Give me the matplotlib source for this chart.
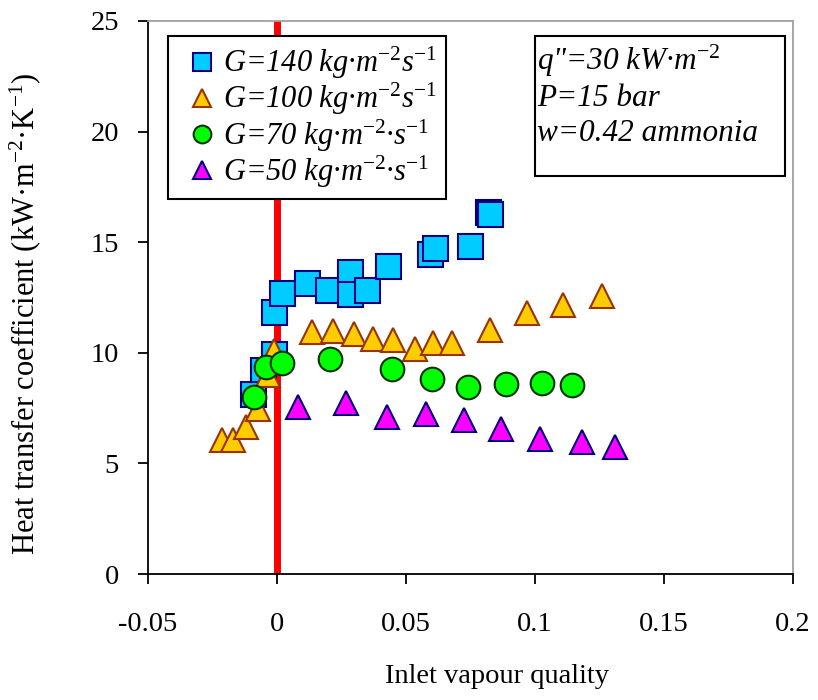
import matplotlib
matplotlib.use("Agg")
import matplotlib.pyplot as plt
from matplotlib.patches import Rectangle

plt.rcParams['font.family'] = ['Liberation Serif', 'DejaVu Serif']
plt.rcParams['mathtext.fontset'] = 'custom'
plt.rcParams['mathtext.rm'] = 'Liberation Serif'
plt.rcParams['mathtext.it'] = 'Liberation Serif:italic'

# ---- data ----
x_g140 = [-0.0012, 0.0021, 0.0115, 0.0199, 0.0283, 0.0283, 0.0348, 0.0429,
          0.0593, 0.0612, 0.0748, 0.0819, 0.0826, -0.0012, -0.0053, -0.0092]
y_g140 = [11.84, 12.69, 13.15, 12.86, 13.67, 12.67, 12.86, 13.94,
          14.47, 14.74, 14.85, 16.35, 16.28, 9.96, 9.20, 8.15]

x_g100 = [-0.0214, -0.0169, -0.0120, -0.0072, -0.0034, -0.0012, 0.0137, 0.0218,
          0.0298, 0.0373, 0.0451, 0.0535, 0.0603, 0.0680, 0.0826, 0.0970,
          0.1110, 0.1258]
y_g100 = [6.05, 6.05, 6.65, 7.48, 8.98, 10.10, 10.93, 10.97,
          10.83, 10.64, 10.56, 10.18, 10.44, 10.44, 11.01, 11.81,
          12.18, 12.56]

x_g70 = [-0.0089, -0.0044, 0.0018, 0.0205, 0.0445, 0.0600, 0.0740, 0.0887,
         0.1026, 0.1142]
y_g70 = [8.00, 9.36, 9.54, 9.70, 9.28, 8.80, 8.45, 8.60, 8.65, 8.53]

x_g50 = [0.0083, 0.0267, 0.0425, 0.0578, 0.0726, 0.0868, 0.1021, 0.1184, 0.1311]
y_g50 = [7.55, 7.73, 7.10, 7.25, 6.95, 6.57, 6.12, 5.97, 5.74]

labels = ['G=140 kg·m$^{\\mathit{-2}}$s$^{\\mathit{-1}}$',
          'G=100 kg·m$^{\\mathit{-2}}$s$^{\\mathit{-1}}$',
          'G=70 kg·m$^{\\mathit{-2}}$·s$^{\\mathit{-1}}$',
          'G=50 kg·m$^{\\mathit{-2}}$·s$^{\\mathit{-1}}$']
info_lines = ['q"=30 kW·m$^{\\mathit{-2}}$', 'P=15 bar', 'w=0.42 ammonia']

x_ticks = [-0.05, 0, 0.05, 0.1, 0.15, 0.2]
x_ticklabels = ['-0.05', '0', '0.05', '0.1', '0.15', '0.2']
y_ticks = [0, 5, 10, 15, 20, 25]

# ---- figure ----
fig = plt.figure(figsize=(8.18, 7.0), dpi=100)
ax = fig.add_axes([148/818, 126/700, 645/818, 553/700])

ax.axvline(0, color='#FF0000', lw=5, zorder=1)

ax.plot(x_g140, y_g140, ls='none', marker='s', ms=18, mfc='#00CCFF', mec='#000080',
        mew=1.5, label=labels[0], zorder=3)
ax.plot(x_g100, y_g100, ls='none', marker='^', ms=17, mfc='#FFCC00', mec='#993300',
        mew=1.5, label=labels[1], zorder=3)
ax.plot(x_g70, y_g70, ls='none', marker='o', ms=17, mfc='#00FF00', mec='#003300',
        mew=1.5, label=labels[2], zorder=3)
ax.plot(x_g50, y_g50, ls='none', marker='^', ms=17, mfc='#FF00FF', mec='#000080',
        mew=1.5, label=labels[3], zorder=3)

ax.set_xlim(-0.05, 0.2)
ax.set_ylim(0, 25)
ax.set_xticks(x_ticks)
ax.set_xticklabels(x_ticklabels)
ax.set_yticks(y_ticks)

for s in ['left', 'bottom']:
    ax.spines[s].set_color('black')
    ax.spines[s].set_linewidth(1.3)
for s in ['top', 'right']:
    ax.spines[s].set_color('#A0A0A0')
    ax.spines[s].set_linewidth(1.3)

ax.tick_params(axis='both', direction='out', length=7, width=1.3, labelsize=20.5, color='black')
ax.tick_params(axis='x', pad=20.5)
ax.tick_params(axis='y', pad=14)

ax.set_xlabel('Inlet vapour quality', fontsize=20.5)
ax.xaxis.set_label_coords(0.541, -0.162)
ax.set_ylabel('Heat transfer coefficient (kW·m$^{-2}$·K$^{-1}$)', fontsize=22)
ax.yaxis.set_label_coords(-0.163, 0.471)

leg = ax.legend(loc='upper left', bbox_to_anchor=(0.031, 0.973), borderaxespad=0,
                frameon=True, fancybox=False, framealpha=1, edgecolor='black',
                prop={'family': 'Liberation Serif', 'style': 'italic', 'size': 22},
                handlelength=1.64, handletextpad=-0.13, borderpad=0.3, labelspacing=0.0,
                markerscale=0.75)
leg.get_frame().set_linewidth(1.5)
leg.set_zorder(5)

ax.add_patch(Rectangle((0.600, 0.720), 0.388, 0.253, transform=ax.transAxes,
                       fill=True, facecolor='white', edgecolor='black', lw=1.5, zorder=5))
for line, yb in zip(info_lines, [0.9116, 0.8466, 0.7834]):
    ax.text(0.603, yb, line, transform=ax.transAxes, fontsize=22.5, style='italic',
            va='baseline', ha='left', zorder=6)

fig.savefig('out.png', dpi=100)
